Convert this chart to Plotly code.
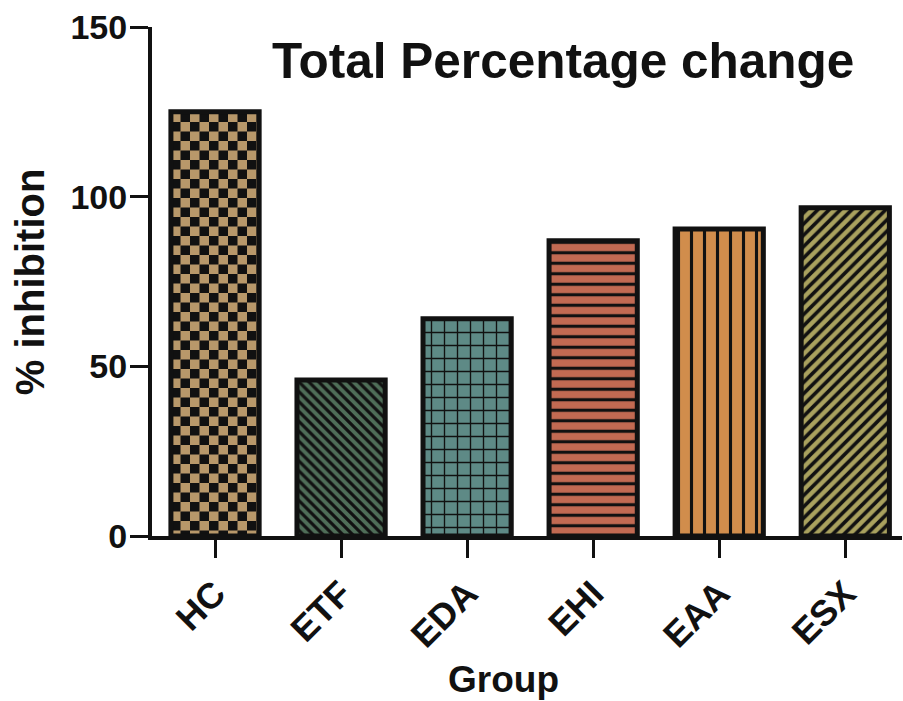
import plotly.graph_objects as go

# Group means (% inhibition)
groups = ["HC", "ETF", "EDA", "EHI", "EAA", "ESX"]
inhibition = [125, 46, 64, 87, 90.5, 96.7]

# Per-bar fill colours and hatch styles
fill_colors = ["#B8986A", "#4F6E58", "#5E8A86", "#C26A52", "#D18D4C", "#A9A15E"]
hatch_shapes = ["+", "\\", "+", "-", "|", "/"]
hatch_sizes = [20, 7, 13, 10.5, 13, 8]
hatch_solidity = [0.5, 0.45, 0.2, 0.3, 0.24, 0.45]

FONT = "Arial, Liberation Sans, sans-serif"
INK = "#111111"

fig = go.Figure(
    go.Bar(
        x=groups,
        y=inhibition,
        width=0.7,
        marker=dict(
            # the per-bar colour comes from the pattern background
            color=fill_colors[0],
            line=dict(color=INK, width=5),
            pattern=dict(
                shape=hatch_shapes,
                fgcolor=INK,
                bgcolor=fill_colors,
                fgopacity=1,
                size=hatch_sizes,
                solidity=hatch_solidity,
                fillmode="overlay",
            ),
        ),
        hoverinfo="x+y",
    )
)

fig.update_layout(
    width=903,
    height=701,
    margin=dict(l=152, r=1, t=27, b=165),
    plot_bgcolor="white",
    paper_bgcolor="white",
    showlegend=False,
    font=dict(family=FONT, color=INK),
    annotations=[
        dict(
            text="<b>Total Percentage change</b>",
            x=0.548, y=0.935, xref="paper", yref="paper",
            xanchor="center", yanchor="middle",
            showarrow=False, font=dict(size=49.5, family=FONT, color=INK),
        ),
        dict(
            text="<b>% inhibition</b>",
            x=-0.163, y=0.5, xref="paper", yref="paper",
            xanchor="center", yanchor="middle", textangle=-90,
            showarrow=False, font=dict(size=40, family=FONT, color=INK),
        ),
        dict(
            text="<b>Group</b>",
            x=0.468, y=-0.281, xref="paper", yref="paper",
            xanchor="center", yanchor="middle",
            showarrow=False, font=dict(size=37, family=FONT, color=INK),
        ),
    ],
)

fig.update_xaxes(
    range=[-0.5, 5.45],
    showline=True, linecolor=INK, linewidth=4,
    ticks="outside", ticklen=18, tickwidth=3, tickcolor=INK,
    tickangle=-45,
    tickfont=dict(size=36, family=FONT, color=INK, weight="bold"),
    showgrid=False, zeroline=False,
)

fig.update_yaxes(
    range=[0, 150],
    tickvals=[0, 50, 100, 150],
    showline=True, linecolor=INK, linewidth=4,
    ticks="outside", ticklen=18, tickwidth=3, tickcolor=INK,
    ticklabelstandoff=-4,
    tickfont=dict(size=34, family=FONT, color=INK, weight="bold"),
    showgrid=False, zeroline=False,
)

# Give the first bar a true checkerboard fill (plotly has no built-in checker hatch)
checker_js = """
var gd = document.getElementById('{plot_id}');
var pts = gd.querySelectorAll('.barlayer .point path');
if (pts.length) {
  var f = pts[0].style.fill || pts[0].getAttribute('fill') || '';
  var m = f.match(/#([^'")]+)/);
  if (m) {
    var pat = document.getElementById(m[1]);
    if (pat) {
      pat.setAttribute('width', '19');
      pat.setAttribute('height', '19');
      pat.innerHTML = '<rect width="19" height="19" fill="#B8986A"></rect>' +
        '<rect x="0" y="0" width="9.5" height="9.5" fill="#111111"></rect>' +
        '<rect x="9.5" y="9.5" width="9.5" height="9.5" fill="#111111"></rect>';
    }
  }
}
"""

fig.write_html("out.html", post_script=checker_js)
